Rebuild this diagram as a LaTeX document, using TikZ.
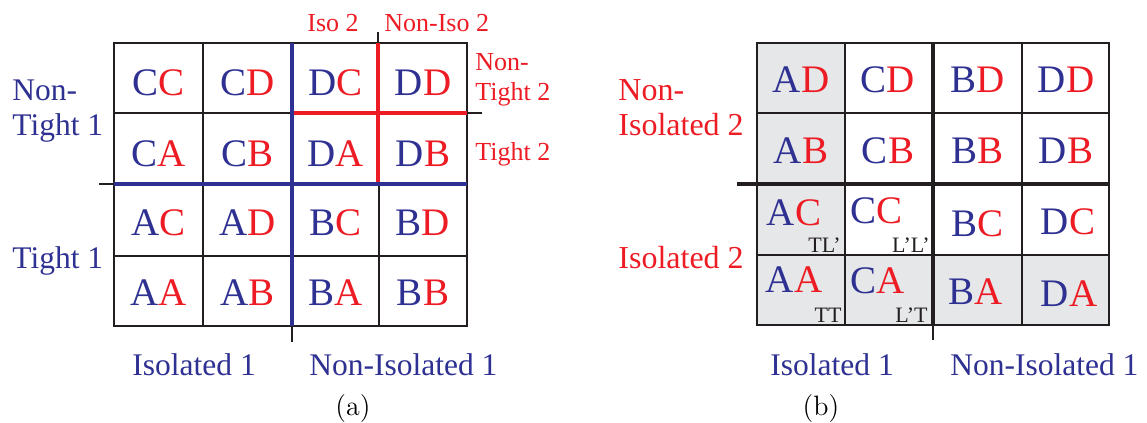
\documentclass[tikz,border=0pt]{standalone}
\usepackage{fontspec}
\newfontfamily\tms{Liberation Serif}
\definecolor{myblue}{RGB}{46,49,146}
\definecolor{myred}{RGB}{237,28,36}
\definecolor{ink}{RGB}{35,31,32}
\definecolor{cellgray}{RGB}{230,231,232}
\newcommand\pr[2]{\textcolor{myblue}{#1}\textcolor{myred}{#2}}
\tikzset{
  celltxt/.style={inner sep=0pt, anchor=base, font=\tms\fontsize{19.5}{20}\selectfont},
  subtxt/.style={inner sep=0pt, anchor=base east, text=ink, font=\tms\fontsize{11}{12}\selectfont},
  bluelbl/.style={inner sep=0pt, anchor=base west, text=myblue, font=\tms\fontsize{15.75}{17}\selectfont},
  redlbl/.style={inner sep=0pt, anchor=base west, text=myred, font=\tms\fontsize{13}{14}\selectfont},
  redbig/.style={inner sep=0pt, anchor=base west, text=myred, font=\tms\fontsize{16}{17}\selectfont},
  caplbl/.style={inner sep=0pt, anchor=base, font=\fontsize{14}{15}\selectfont},
  thin/.style={draw=ink, line width=0.75pt},
  outer/.style={draw=ink, line width=1pt},
  bthin/.style={draw=ink, line width=1pt},
  bthick/.style={draw=ink, line width=1.8pt},
  blueline/.style={draw=myblue, line width=1.6pt},
  redline/.style={draw=myred, line width=1.6pt},
  shade/.style={fill=cellgray, draw=none},
}
\begin{document}
\begin{tikzpicture}[x=0.5pt,y=-0.5pt]
\useasboundingbox (0,0) rectangle (1147,423);
% ---------------- panel (a) ----------------
\foreach \x in {203,379} \draw[thin] (\x,43) -- (\x,326);
\foreach \y in {113,256} \draw[thin] (114,\y) -- (467,\y);
\draw[outer] (114,43) rectangle (467,326);
% ticks
\draw[thin] (99,184) -- (114,184);
\draw[thin] (292,326) -- (292,342);
\draw[thin] (378,32) -- (378,43);
\draw[thin] (467,113) -- (482,113);
% red lines
\draw[redline] (292,113) -- (467,113);
\draw[redline] (378,43) -- (378,184);
% blue lines
\draw[blueline] (114,184) -- (467,184);
\draw[blueline] (292,43) -- (292,326);
% cells
\node[celltxt] (a11) at (158.5,95) {\pr{C}{C}};
\node[celltxt] (a12) at (247.5,95) {\pr{C}{D}};
\node[celltxt] (a13) at (335.5,95) {\pr{D}{C}};
\node[celltxt] (a14) at (423,95) {\pr{D}{D}};
\node[celltxt] (a21) at (158.5,166) {\pr{C}{A}};
\node[celltxt] (a22) at (247.5,166) {\pr{C}{B}};
\node[celltxt] (a23) at (335.5,166) {\pr{D}{A}};
\node[celltxt] (a24) at (423,166) {\pr{D}{B}};
\node[celltxt] (a31) at (158.5,235) {\pr{A}{C}};
\node[celltxt] (a32) at (247.5,235) {\pr{A}{D}};
\node[celltxt] (a33) at (335.5,235) {\pr{B}{C}};
\node[celltxt] (a34) at (423,235) {\pr{B}{D}};
\node[celltxt] (a41) at (158.5,305) {\pr{A}{A}};
\node[celltxt] (a42) at (247.5,305) {\pr{A}{B}};
\node[celltxt] (a43) at (335.5,305) {\pr{B}{A}};
\node[celltxt] (a44) at (423,305) {\pr{B}{B}};
% labels
\node[bluelbl] (ant1a) at (12,100) {Non-};
\node[bluelbl] (ant1b) at (12,135) {Tight 1};
\node[bluelbl] (at1) at (12,268) {Tight 1};
\node[redlbl] (aiso2) at (307,32) {Iso 2};
\node[redlbl] (aniso2) at (384,32) {Non-Iso 2};
\node[redlbl] (ant2a) at (475,70) {Non-};
\node[redlbl] (ant2b) at (475,100) {Tight 2};
\node[redlbl] (at2) at (475,160) {Tight 2};
\node[bluelbl] (aiso1) at (132,375) {Isolated 1};
\node[bluelbl] (aniso1) at (309,375) {Non-Isolated 1};
\node[caplbl] (capa) at (353,415) {(a)};
% ---------------- panel (b) ----------------
\fill[shade] (757,43) rectangle (845,255);
\fill[shade] (757,255) rectangle (1109,325);
\foreach \x in {845,1022} \draw[bthin] (\x,43) -- (\x,325);
\foreach \y in {113,255} \draw[bthin] (757,\y) -- (1109,\y);
\draw[bthin, line width=1.2pt] (757,43) rectangle (1109,325);
\draw[bthick] (737,184) -- (1109,184);
\draw[bthick] (933,43) -- (933,325);
\draw[bthin] (933,325) -- (933,340);
% cells
\node[celltxt] (b11) at (801,92) {\pr{A}{D}};
\node[celltxt] (b12) at (888,92) {\pr{C}{D}};
\node[celltxt] (b13) at (977.5,92) {\pr{B}{D}};
\node[celltxt] (b14) at (1066,92) {\pr{D}{D}};
\node[celltxt] (b21) at (801,163) {\pr{A}{B}};
\node[celltxt] (b22) at (888,163) {\pr{C}{B}};
\node[celltxt] (b23) at (977.5,163) {\pr{B}{B}};
\node[celltxt] (b24) at (1066,163) {\pr{D}{B}};
\node[celltxt] (b31) at (794,225) {\pr{A}{C}};
\node[celltxt] (b32) at (876.5,223) {\pr{C}{C}};
\node[celltxt] (b33) at (977.5,236) {\pr{B}{C}};
\node[celltxt] (b34) at (1068,234) {\pr{D}{C}};
\node[celltxt] (b41) at (794,292) {\pr{A}{A}};
\node[celltxt] (b42) at (877.5,293) {\pr{C}{A}};
\node[celltxt] (b43) at (976,304) {\pr{B}{A}};
\node[celltxt] (b44) at (1069,306) {\pr{D}{A}};
\node[subtxt] (s31) at (841,252) {TL’};
\node[subtxt] (s32) at (930,252) {L’L’};
\node[subtxt] (s41) at (842,322) {TT};
\node[subtxt] (s42) at (928,322) {L’T};
% labels
\node[redbig] (bni2a) at (618,100) {Non-};
\node[redbig] (bni2b) at (618,135) {Isolated 2};
\node[redbig] (bi2) at (618,268) {Isolated 2};
\node[bluelbl] (biso1) at (770,375) {Isolated 1};
\node[bluelbl] (bniso1) at (950,375) {Non-Isolated 1};
\node[caplbl] (capb) at (821,415) {(b)};
\end{tikzpicture}
\end{document}
